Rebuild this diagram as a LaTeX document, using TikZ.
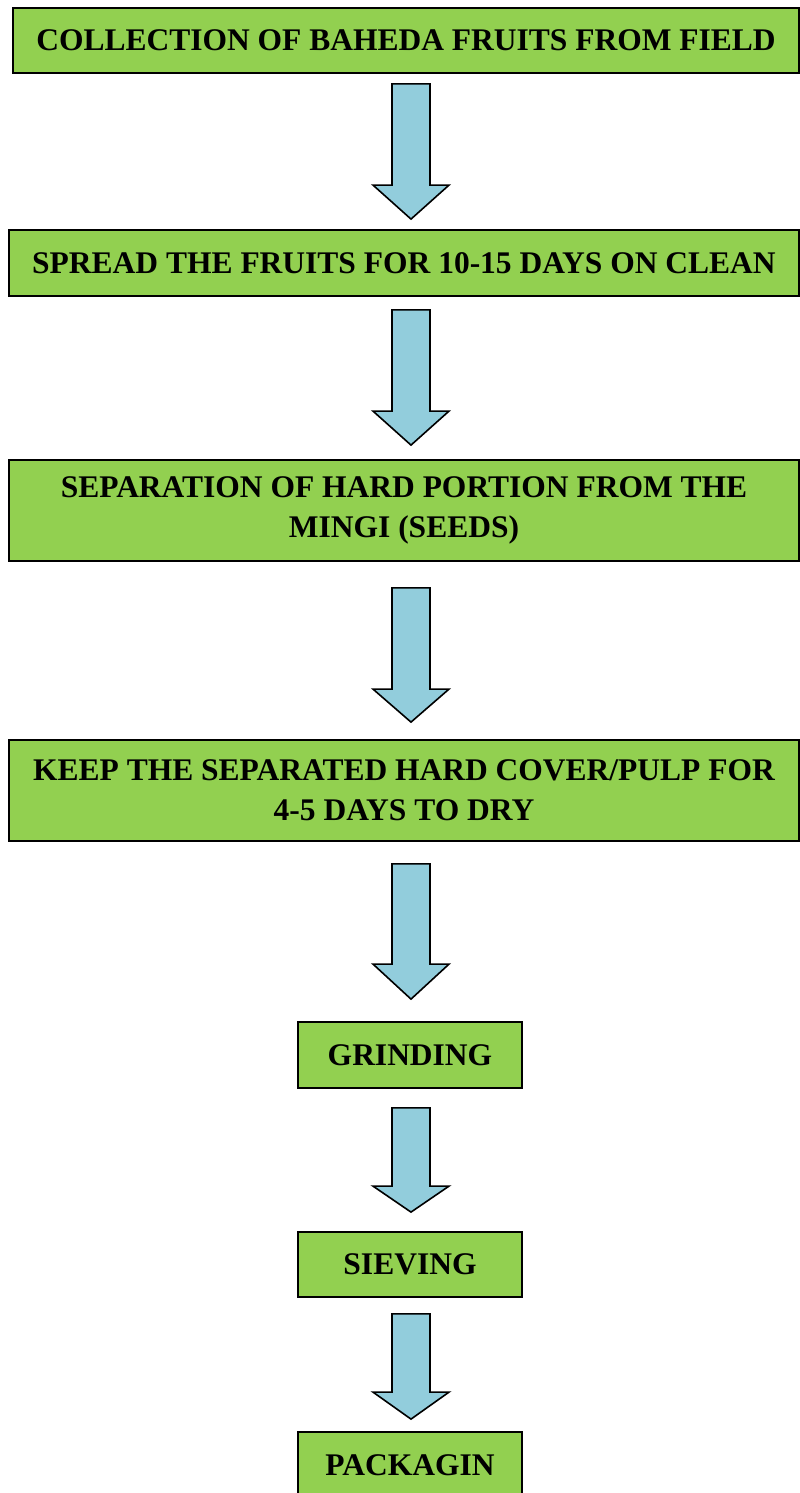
\documentclass[tikz,border=0pt]{standalone}
\usepackage{fontspec}
\setmainfont{Liberation Serif}
\usetikzlibrary{calc}

\definecolor{boxgreen}{HTML}{92D050}
\definecolor{arrowblue}{HTML}{92CDDC}

\tikzset{
  stepbox/.style={draw,line width=1.8pt,fill=boxgreen,inner sep=0pt,align=center,
    font=\fontsize{31.5}{40}\selectfont\bfseries},
  arrowbody/.style={draw,line width=1.6pt,fill=arrowblue,line join=miter}
}

% block arrow between two boxes: [head length]{from}{to}{top gap}{bottom gap}
\newcommand{\blockarrow}[5][34]{%
  \path ($(#2.south -| mid)+(0,-#4)$) coordinate (t)
        ($(#3.north -| mid)+(0,#5)$) coordinate (h);
  \draw[arrowbody] ($(t)+(-19,0)$) -- ($(t)+(19,0)$) -- ($(h)+(19,#1)$) -- ($(h)+(38,#1)$)
    -- (h) -- ($(h)+(-38,#1)$) -- ($(h)+(-19,#1)$) -- cycle;}

\begin{document}
\begin{tikzpicture}[x=1pt,y=1pt]

        \useasboundingbox (0,0) rectangle (800,-1493);
        \coordinate (mid) at (411,0);

        \begin{scope}[every node/.style={stepbox}]
          \node[minimum width=786,minimum height=65]  (collect)  at (406,-40.5)  {COLLECTION OF BAHEDA FRUITS FROM FIELD};
          \node[minimum width=790,minimum height=66]  (spread)   at (404,-263)   {SPREAD THE FRUITS FOR 10-15 DAYS ON CLEAN};
          \node[minimum width=790,minimum height=101] (separate) at (404,-510.5) {SEPARATION OF HARD PORTION FROM THE\\MINGI (SEEDS)};
          \node[minimum width=790,minimum height=101] (dry)      at (404,-790.5) {KEEP THE SEPARATED HARD COVER/PULP FOR\\4-5 DAYS TO DRY};
          \node[minimum width=224,minimum height=66]  (grind)    at (410,-1055)  {GRINDING};
          \node[minimum width=224,minimum height=65]  (sieve)    at (410,-1264.5) {SIEVING};
          \node[minimum width=224,minimum height=66]  (pack)     at (410,-1465)  {PACKAGIN};
        \end{scope}

        \blockarrow{collect}{spread}{10}{10}
        \blockarrow{spread}{separate}{13}{14}
        \blockarrow[33]{separate}{dry}{26}{17}
        \blockarrow[35]{dry}{grind}{22}{22}
        \blockarrow[26]{grind}{sieve}{19}{19}
        \blockarrow[27]{sieve}{pack}{16}{12}

      \end{tikzpicture}
\end{document}
